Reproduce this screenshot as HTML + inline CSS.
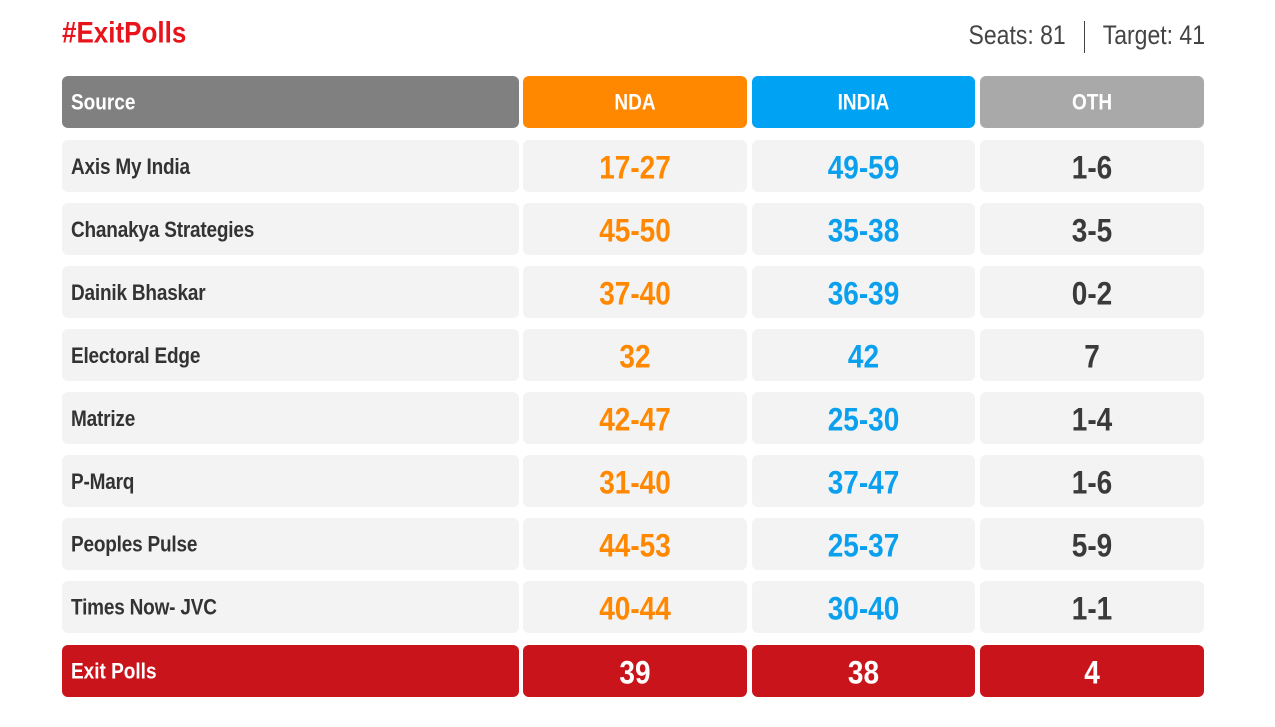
<!DOCTYPE html>
<html><head><meta charset="utf-8"><style>
body{margin:0;width:1275px;height:727px;background:#fff;font-family:"Liberation Sans",sans-serif;position:relative;overflow:hidden}
.c{position:absolute;border-radius:6px;display:flex;align-items:center;justify-content:center;box-sizing:border-box;height:52px;padding-top:3px}
.s{justify-content:flex-start;padding-left:9px}
.t{display:inline-block;transform:scaleY(1.15)}
.h{color:#fff;font-weight:bold;font-size:19px}
.src{color:#333;font-size:19px;font-weight:bold;letter-spacing:-0.2px}
.n{font-size:28px;font-weight:bold}
</style></head><body>
<div style="position:absolute;left:62px;top:17px;color:#e8141c;font-weight:bold;font-size:26px"><span class="t">#ExitPolls</span></div>
<div style="position:absolute;right:70px;top:21px;color:#444;font-size:23px"><span class="t">Seats: 81</span><span style="display:inline-block;width:1px;height:32px;background:#444;margin:0 18px;vertical-align:middle"></span><span class="t">Target: 41</span></div>
<div id="g"></div>
<script>
var cols=[[62,457],[523,224],[752,223],[980,224]];
var rows=[["Axis My India","17-27","49-59","1-6"],["Chanakya Strategies","45-50","35-38","3-5"],["Dainik Bhaskar","37-40","36-39","0-2"],["Electoral Edge","32","42","7"],["Matrize","42-47","25-30","1-4"],["P-Marq","31-40","37-47","1-6"],["Peoples Pulse","44-53","25-37","5-9"],["Times Now- JVC","40-44","30-40","1-1"]];
var h='';
function cell(i,top,bg,cls,color,txt){var c=cols[i];h+='<div class="c '+(i==0?'s ':'')+cls+'" style="left:'+c[0]+'px;top:'+top+'px;width:'+c[1]+'px;background:'+bg+';color:'+color+'"><span class="t">'+txt+'</span></div>';}
cell(0,76,'#808080','h','#fff','Source');cell(1,76,'#ff8800','h','#fff','NDA');cell(2,76,'#00a2f4','h','#fff','INDIA');cell(3,76,'#a9a9a9','h','#fff','OTH');
var colr=['#333','#ff8800','#0aa0ee','#3a3a3a'];
rows.forEach(function(r,k){var y=140+k*63;
 for(var i=0;i<4;i++)cell(i,y,'#f3f3f3',i==0?'src':'n',colr[i],r[i]);});
var f=['Exit Polls','39','38','4'];
for(var i=0;i<4;i++)cell(i,645,'#c8141a',i==0?'h':'n','#fff',f[i]);
document.getElementById('g').innerHTML=h;
</script>
</body></html>
